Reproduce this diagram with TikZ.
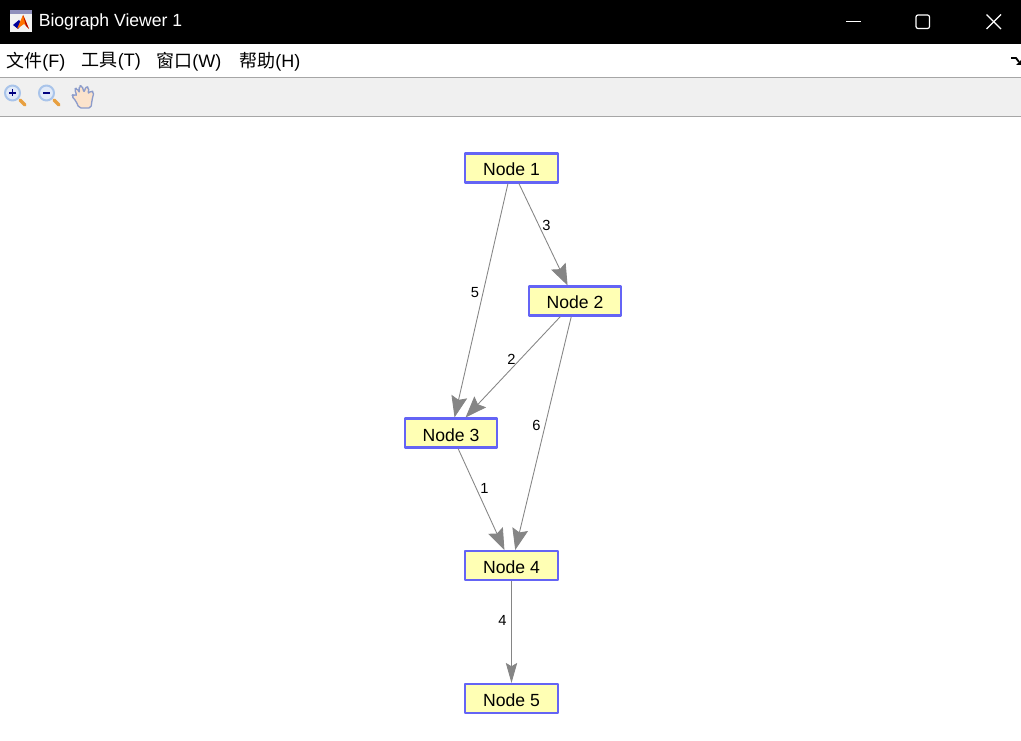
\documentclass[tikz,border=0pt]{standalone}
\usepackage{fontspec}
\setmainfont{Liberation Sans}
\newfontfamily\cjk{Noto Sans CJK SC}
\usetikzlibrary{arrows.meta}
\definecolor{nodefill}{HTML}{FFFFB4}
\definecolor{nodeline}{HTML}{6464F5}
\definecolor{edgeline}{HTML}{858585}
\definecolor{barfill}{HTML}{F0F0F0}
\definecolor{barline}{HTML}{A6A6A6}
\definecolor{lensblue}{HTML}{A9C4EA}
\definecolor{handfill}{HTML}{FBE3CC}
\definecolor{handline}{HTML}{8C9CCB}
\definecolor{lenshandlecol}{HTML}{E8A040}
\tikzset{
	bionode/.style={draw=nodeline,fill=nodefill,line width=1.6pt,minimum width=92.5*0.75pt,minimum height=29*0.75pt,inner sep=0pt,text height=12pt,text depth=0pt,font=\fontsize{13.2}{15}\selectfont},
	bioedge/.style={draw=edgeline,line width=0.65pt,-{Stealth[length=16pt,width=12pt,inset=2.5pt]}},
	thinedge/.style={draw=edgeline,line width=0.65pt,-{Stealth[length=15pt,width=8.5pt,inset=2.5pt]}},
	edgelabel/.style={inner sep=0pt,font=\fontsize{11}{13}\selectfont},
	menulabel/.style={anchor=west,inner sep=0pt,font=\fontsize{13.5}{16}\selectfont},
	winbutton/.style={draw=white,line width=0.9pt},
	lens/.style={draw=lensblue,fill=lensblue!35,line width=1.5pt},
	lenshandle/.style={draw=lenshandlecol,line width=2.6pt,line cap=round},
}
\begin{document}
\begin{tikzpicture}[x=0.75pt,y=-0.75pt,line join=round]
	\useasboundingbox (0,0) rectangle (1021,741);
	\fill[white] (0,0) rectangle (1021,741);
	% window frame
	\fill[black] (0,0) rectangle (1021,44);
	\fill[barfill] (0,78) rectangle (1021,116);
	\draw[barline] (0,77.5) -- (1021,77.5);
	\draw[barline] (0,116.5) -- (1021,116.5);
	% title bar
	\fill[white!90!gray] (10,10) rectangle (32,32);
	\fill[blue!25!gray!70!white] (10,10) rectangle (32,14);
	\fill[blue!60!black] (13,25) -- (19,20) -- (22,24) -- (18,29) -- cycle;
	\fill[orange!90!red] (17,29) -- (23,15) -- (25,19) -- (29,29) -- (24,24) -- cycle;
	\fill[red!70!black] (23,15) -- (29,29) -- (26,26) -- cycle;
	\node[anchor=west,inner sep=0pt,text=white,font=\fontsize{13.2}{16}\selectfont] (title) at (38.5,22) {\raisebox{-1pt}{Biograph Viewer 1}};
	\draw[winbutton] (846,21.5) -- (861,21.5);
	\draw[winbutton,rounded corners=1.5pt] (916,15) rectangle (929.5,28.5);
	\draw[winbutton] (986.5,14.5) -- (1001,29);
	\draw[winbutton] (986.5,29) -- (1001,14.5);
	% menu bar
	\node[menulabel] (file) at (6,61.5) {{\cjk 文件}(F)};
	\node[menulabel] (tools) at (81.5,61.5) {{\cjk 工具}(T)};
	\node[menulabel] (window) at (156,61.5) {{\cjk 窗口}(W)};
	\node[menulabel] (help) at (239,61.5) {{\cjk 帮助}(H)};
	\draw[black,line width=1.4pt] (1011,58) -- (1016,58) -- (1019,62);
	\fill[black] (1021,60) -- (1021,65) -- (1016,65) -- cycle;
	% toolbar
	\draw[lenshandle] (20,100) -- (25,105);
	\draw[lens] (12.5,93) circle (7.5);
	\draw[blue!50!black,line width=1pt] (9,93) -- (16,93);
	\draw[blue!50!black,line width=1pt] (12.5,89.5) -- (12.5,96.5);
	\draw[lenshandle] (54,100) -- (59,105);
	\draw[lens] (46.5,93) circle (7.5);
	\draw[blue!50!black,line width=1pt] (43,93) -- (50,93);
	\draw[draw=handline,fill=handfill,line width=1pt,rounded corners=1.5pt] (79,108) -- (76,101) -- (71.5,96) -- (73.5,94) -- (77,96) -- (74.5,89) -- (77,88) -- (79.5,93) -- (79,86) -- (82,85.5) -- (84,92.5) -- (86,86.5) -- (89,87.5) -- (88,94) -- (91,90.5) -- (94,92) -- (92,100) -- (91,108) -- cycle;
	% graph
	\node[bionode] (n1) at (511.5,168) {Node 1};
	\node[bionode] (n2) at (575,301) {Node 2};
	\node[bionode] (n3) at (451,433) {Node 3};
	\node[bionode] (n4) at (511.5,565.5) {Node 4};
	\node[bionode] (n5) at (511.5,698.5) {Node 5};
	\draw[bioedge] (n1) -- (n2);
	\draw[bioedge] (n1) -- (n3);
	\draw[bioedge] (n2) -- (n3);
	\draw[bioedge] (n2) -- (n4);
	\draw[bioedge] (n3) -- (n4);
	\draw[thinedge] (n4) -- (n5);
	\node[edgelabel] (l3) at (546.5,225) {3};
	\node[edgelabel] (l5) at (475,292.5) {5};
	\node[edgelabel] (l2) at (511.5,359.5) {2};
	\node[edgelabel] (l6) at (536.5,425) {6};
	\node[edgelabel] (l1) at (484.5,488.5) {1};
	\node[edgelabel] (l4) at (502.5,620) {4};
\end{tikzpicture}
\end{document}
